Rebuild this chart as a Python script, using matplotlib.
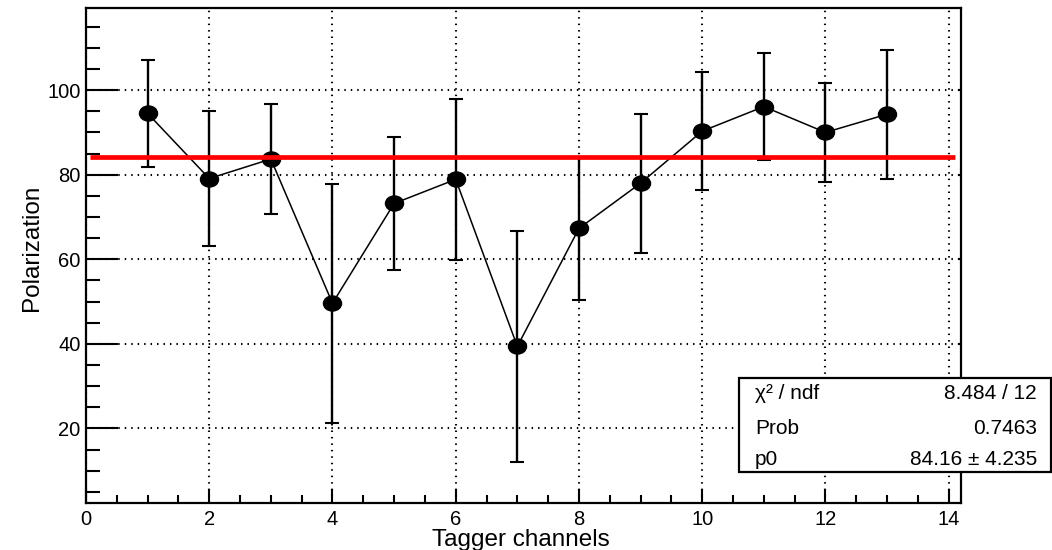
import matplotlib
matplotlib.use("Agg")
import matplotlib.pyplot as plt
from matplotlib.path import Path
from matplotlib.patches import Rectangle
from matplotlib.ticker import MultipleLocator
import numpy as np

plt.rcParams['font.family'] = ['Liberation Sans', 'DejaVu Sans']

# Measured polarization per tagger channel
channels = [1, 2, 3, 4, 5, 6, 7, 8, 9, 10, 11, 12, 13]
polarization = [94.5, 79.1, 83.7, 49.6, 73.2, 78.9, 39.4, 67.3, 78.0, 90.3, 96.1, 90.0, 94.3]
pol_error = [12.6, 16.0, 13.1, 28.3, 15.7, 19.1, 27.3, 17.0, 16.4, 14.0, 12.6, 11.7, 15.3]

# Constant fit result (pol0)
fit_p0 = 84.16
fit_range = [0.065, 14.1]
stats_labels = ["\u03c7\u00b2 / ndf", "Prob", "p0"]
stats_values = ["8.484 / 12", "0.7463", "84.16 \u00b1 4.235"]

W, H = 1052, 550
fig = plt.figure(figsize=(W / 100, H / 100), dpi=100)
ax = fig.add_axes([86 / W, 1 - 503.3 / H, (961 - 86) / W, (503.3 - 8.3) / H])

# Slightly wide elliptical marker
circ = Path.unit_circle()
ell = Path(circ.vertices * np.array([1.2, 1.0]), circ.codes)

ax.plot(channels, polarization, color='black', lw=1.1, zorder=3)
ax.errorbar(channels, polarization, yerr=pol_error, fmt='none', ecolor='black',
            elinewidth=1.7, capsize=4.7, capthick=1.5, zorder=4)
ax.plot(channels, polarization, linestyle='none', marker=ell, ms=13,
        color='black', zorder=5)
ax.plot(fit_range, [fit_p0, fit_p0], color='#ff0000', lw=3.4, zorder=6,
        solid_capstyle='butt')

ax.set_xlim(0, 14.2)
ax.set_ylim(2.3, 119.35)
ax.xaxis.set_major_locator(MultipleLocator(2))
ax.xaxis.set_minor_locator(MultipleLocator(0.5))
ax.yaxis.set_major_locator(MultipleLocator(20))
ax.yaxis.set_minor_locator(MultipleLocator(5))
ax.set_yticks([20, 40, 60, 80, 100])

ax.grid(True, which='major', color='black', linestyle=(0, (0.7, 2.4)), lw=1.5)
ax.set_axisbelow(True)

for s in ax.spines.values():
    s.set_linewidth(1.6)
    s.set_color('black')

ax.tick_params(axis='both', which='both', direction='in', colors='black',
               width=1.5, labelsize=14.5)
ax.tick_params(axis='y', which='major', length=23, pad=4)
ax.tick_params(axis='y', which='minor', length=10)
ax.tick_params(axis='x', which='major', length=10, pad=5)
ax.tick_params(axis='x', which='minor', length=5.8)
ax.yaxis.set_tick_params(which='major', right=True)
for t in ax.yaxis.get_major_ticks():
    t.tick2line.set_markersize(2.5)

ax.set_xlabel("Tagger channels", fontsize=17.5, va='baseline')
ax.xaxis.set_label_coords((521 - 86) / 875, (503.3 - 546) / 495)
ax.set_ylabel("Polarization", fontsize=17.5, va='baseline')
ax.yaxis.set_label_coords((38 - 86) / 875, (503.3 - 248) / 495)

# Fit statistics box
bx0, by0, bx1, by1 = 739, 378, 1051, 472
fig.add_artist(Rectangle((bx0 / W, 1 - by1 / H), (bx1 - bx0) / W, (by1 - by0) / H,
                         transform=fig.transFigure, facecolor='white',
                         edgecolor='black', lw=1.6, zorder=10))
rows_baseline = [399, 434, 465]
for lab, val, yb in zip(stats_labels, stats_values, rows_baseline):
    fig.text(755 / W, 1 - yb / H, lab, ha='left', va='baseline', fontsize=15, zorder=11)
    fig.text(1037 / W, 1 - yb / H, val, ha='right', va='baseline', fontsize=15, zorder=11)

fig.savefig("out.png", dpi=100, facecolor='white')
